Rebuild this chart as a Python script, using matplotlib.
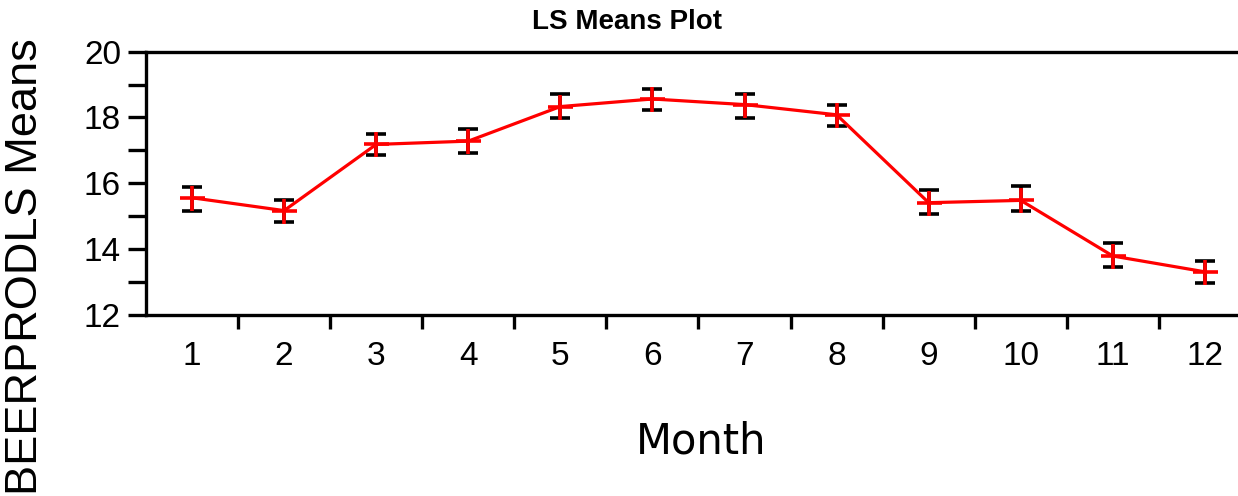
import numpy as np
import matplotlib
matplotlib.use('Agg')
import matplotlib.pyplot as plt

plt.rcParams['font.family'] = ['Liberation Sans', 'DejaVu Sans']

months = ['1', '2', '3', '4', '5', '6', '7', '8', '9', '10', '11', '12']
ls_means = [15.56, 15.17, 17.18, 17.28, 18.33, 18.56, 18.39, 18.08, 15.41, 15.48, 13.79, 13.31]
err_upper = [15.89, 15.48, 17.50, 17.66, 18.72, 18.87, 18.72, 18.39, 15.81, 15.91, 14.20, 13.64]
err_lower = [15.16, 14.83, 16.85, 16.93, 17.99, 18.23, 17.99, 17.75, 15.08, 15.16, 13.46, 12.98]

x = np.arange(1, len(months) + 1)
means = np.array(ls_means)
yerr = [means - np.array(err_lower), np.array(err_upper) - means]

fig = plt.figure(figsize=(12.38, 4.96), dpi=100)
ax = fig.add_axes([0.1179, 0.365, 0.8926, 0.531])

# black error bars, red means line with + markers on top
ax.errorbar(x, means, yerr=yerr, fmt='none', ecolor='black', elinewidth=2.6,
            capsize=7, capthick=2.6, zorder=2)
ax.plot(x, means, color='red', linewidth=2.3, marker='+', markersize=18,
        markeredgewidth=2.6, zorder=3)

ax.set_xlim(0.5, 12.5)
ax.set_ylim(12, 20)
ax.set_yticks([12, 14, 16, 18, 20])
ax.set_yticks([13, 15, 17, 19], minor=True)
ax.set_xticks(x)
ax.set_xticklabels(months)
ax.set_xticks(np.arange(1.5, 12.5, 1), minor=True)

for s in ['top', 'bottom', 'left']:
    ax.spines[s].set_linewidth(2.4)
ax.spines['right'].set_visible(False)

ax.tick_params(axis='y', which='both', direction='out', length=13, width=2.4,
               labelsize=24, pad=5)
ax.tick_params(axis='x', which='major', length=0, labelsize=24, pad=19)
ax.tick_params(axis='x', which='minor', direction='out', length=10, width=2.4)

fig.text(627 / 1238, 1 - 22 / 496, 'LS Means Plot', ha='center', va='center',
         fontsize=20, fontweight='bold')
fig.text(26 / 1238, 1 - 267 / 496, 'BEERPRODLS Means', rotation=90,
         ha='center', va='center', fontsize=32.5)
fig.text(701 / 1238, 1 - 441 / 496, 'Month', ha='center', va='center',
         fontsize=30, family=['DejaVu Sans'])

fig.savefig('out.png', dpi=100)
